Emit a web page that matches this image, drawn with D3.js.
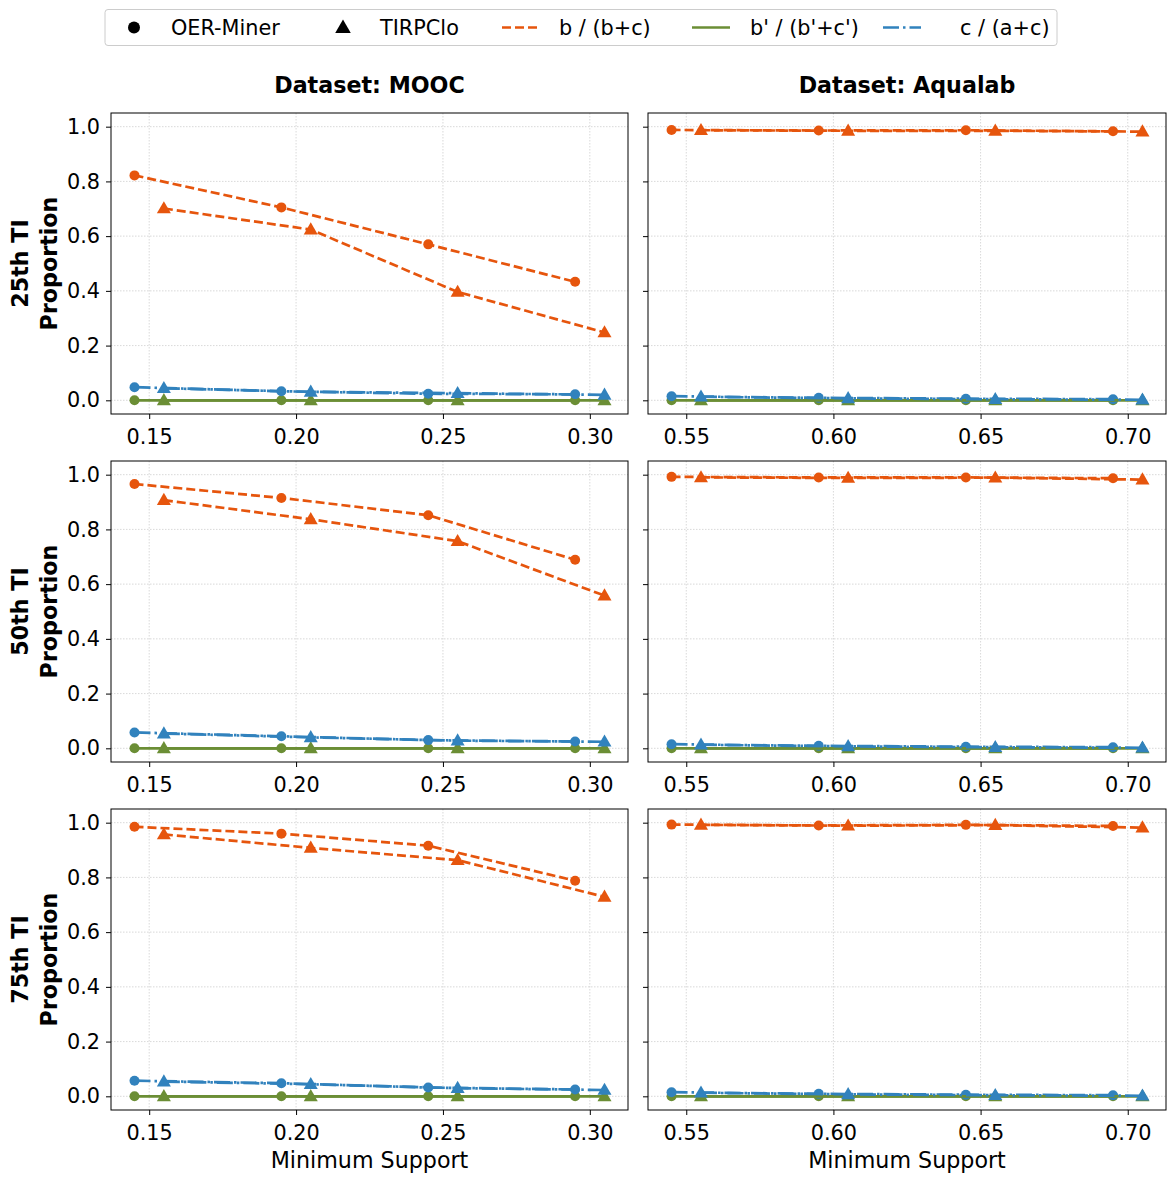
<!DOCTYPE html>
<html><head><meta charset="utf-8">
<script src="https://cdn.jsdelivr.net/npm/d3@7"></script>
<style>body{margin:0;background:#fff;} text{font-family:"DejaVu Sans",sans-serif;}</style>
</head><body>
<svg id="chart" width="1175" height="1182"></svg>
<script>
// ---------------- DATA ----------------
const datasets = ["MOOC", "Aqualab"];
const rowLabels = ["25th TI", "50th TI", "75th TI"];
const methods = ["OER-Miner", "TIRPClo"];
const metrics = ["b / (b+c)", "b' / (b'+c')", "c / (a+c)"];

const xMOOC_OER = [0.145, 0.195, 0.245, 0.295];
const xMOOC_TIR = [0.155, 0.205, 0.255, 0.305];
const xAqua_OER = [0.545, 0.595, 0.645, 0.695];
const xAqua_TIR = [0.555, 0.605, 0.655, 0.705];

const xTicksMOOC = [0.15, 0.20, 0.25, 0.30];
const xTicksAqua = [0.55, 0.60, 0.65, 0.70];
const yTicks = [0.0, 0.2, 0.4, 0.6, 0.8, 1.0];

// MOOC, rows 25th / 50th / 75th
const mooc_OER_b = [[0.822, 0.705, 0.570, 0.433], [0.966, 0.915, 0.852, 0.689], [0.985, 0.960, 0.916, 0.788]];
const mooc_TIR_b = [[0.701, 0.624, 0.396, 0.248], [0.907, 0.837, 0.757, 0.558], [0.957, 0.908, 0.863, 0.729]];
const mooc_OER_bp = [[0, 0, 0, 0], [0, 0, 0, 0], [0, 0, 0, 0]];
const mooc_TIR_bp = [[0, 0, 0, 0], [0, 0, 0, 0], [0, 0, 0, 0]];
const mooc_OER_c = [[0.048, 0.033, 0.024, 0.022], [0.058, 0.044, 0.030, 0.025], [0.057, 0.048, 0.032, 0.025]];
const mooc_TIR_c = [[0.044, 0.031, 0.026, 0.020], [0.054, 0.040, 0.028, 0.024], [0.054, 0.044, 0.030, 0.023]];

// Aqualab
const aqua_OER_b = [[0.988, 0.986, 0.987, 0.983], [0.992, 0.990, 0.990, 0.987], [0.993, 0.990, 0.992, 0.988]];
const aqua_TIR_b = [[0.987, 0.985, 0.985, 0.982], [0.990, 0.988, 0.989, 0.982], [0.992, 0.989, 0.991, 0.982]];
const aqua_OER_bp = [[0, 0, 0, 0], [0, 0, 0, 0], [0, 0, 0, 0]];
const aqua_TIR_bp = [[0, 0, 0, 0], [0, 0, 0, 0], [0, 0, 0, 0]];
const aqua_OER_c = [[0.015, 0.009, 0.006, 0.004], [0.015, 0.009, 0.006, 0.004], [0.015, 0.009, 0.006, 0.004]];
const aqua_TIR_c = [[0.013, 0.007, 0.004, 0.002], [0.013, 0.007, 0.004, 0.002], [0.013, 0.007, 0.004, 0.002]];

// ---------------- STYLE ----------------
const colors = ["#e6550d", "#6b8e35", "#3182bd"];
const dashes = ["9,4", null, "16,4,2.5,4"];
const tickFont = "20.8px";
const labelFont = "22.2px";

const svg = d3.select("#chart");
const colX = [[111, 628], [648, 1166]];
const rowY = [113, 461, 809];
const panelH = 301;
const xDomains = [[0.137, 0.313], [0.537, 0.713]];

const xs = [[xMOOC_OER, xMOOC_TIR], [xAqua_OER, xAqua_TIR]];
const ys = [
  [[mooc_OER_b, mooc_OER_bp, mooc_OER_c], [mooc_TIR_b, mooc_TIR_bp, mooc_TIR_c]],
  [[aqua_OER_b, aqua_OER_bp, aqua_OER_c], [aqua_TIR_b, aqua_TIR_bp, aqua_TIR_c]]
];
const xTicksAll = [xTicksMOOC, xTicksAqua];

const tri = d3.symbol().type(d3.symbolTriangle).size(85);

for (let r = 0; r < 3; r++) {
  for (let c = 0; c < 2; c++) {
    const x = d3.scaleLinear().domain(xDomains[c]).range(colX[c]);
    const y = d3.scaleLinear().domain([-0.05, 1.05]).range([rowY[r] + panelH, rowY[r]]);
    const g = svg.append("g");
    // grid
    g.selectAll(".gx").data(xTicksAll[c]).enter().append("line")
      .attr("x1", d => x(d)).attr("x2", d => x(d))
      .attr("y1", rowY[r]).attr("y2", rowY[r] + panelH)
      .attr("stroke", "#cfcfcf").attr("stroke-width", 0.8).attr("stroke-dasharray", "1.5,1.5");
    g.selectAll(".gy").data(yTicks).enter().append("line")
      .attr("x1", colX[c][0]).attr("x2", colX[c][1])
      .attr("y1", d => y(d)).attr("y2", d => y(d))
      .attr("stroke", "#cfcfcf").attr("stroke-width", 0.8).attr("stroke-dasharray", "1.5,1.5");

    // axes
    const xAxis = d3.axisBottom(x).tickValues(xTicksAll[c]).tickFormat(d3.format(".2f")).tickSize(5).tickPadding(10);
    const gx = g.append("g").attr("transform", `translate(0,${rowY[r] + panelH})`).call(xAxis);
    gx.select(".domain").remove();
    gx.selectAll("text").attr("font-size", tickFont).attr("fill", "#000").attr("font-family", "DejaVu Sans");
    gx.selectAll("line").attr("stroke", "#000");

    const yAxis = d3.axisLeft(y).tickValues(yTicks).tickFormat(c === 0 ? d3.format(".1f") : () => "").tickSize(5).tickPadding(6);
    const gy = g.append("g").attr("transform", `translate(${colX[c][0]},0)`).call(yAxis);
    gy.select(".domain").remove();
    gy.selectAll("text").attr("font-size", tickFont).attr("fill", "#000").attr("font-family", "DejaVu Sans");
    gy.selectAll("line").attr("stroke", "#000");

    // series
    for (let m = 0; m < 2; m++) {
      for (let k = 0; k < 3; k++) {
        const xv = xs[c][m];
        const yv = ys[c][m][k][r];
        const pts = xv.map((xx, i) => [xx, yv[i]]);
        const line = d3.line().x(d => x(d[0])).y(d => y(d[1]));
        g.append("path").attr("d", line(pts)).attr("fill", "none")
          .attr("stroke", colors[k]).attr("stroke-width", 2.7)
          .attr("stroke-dasharray", dashes[k]);
        if (m === 0) {
          g.selectAll(null).data(pts).enter().append("circle")
            .attr("cx", d => x(d[0])).attr("cy", d => y(d[1])).attr("r", 5)
            .attr("fill", colors[k]);
        } else {
          g.selectAll(null).data(pts).enter().append("path")
            .attr("d", tri)
            .attr("transform", d => `translate(${x(d[0])},${y(d[1]) + 0.8})`)
            .attr("fill", colors[k]);
        }
      }
    }

    // frame
    g.append("rect").attr("x", colX[c][0]).attr("y", rowY[r])
      .attr("width", colX[c][1] - colX[c][0]).attr("height", panelH)
      .attr("fill", "none").attr("stroke", "#000").attr("stroke-width", 1);

    if (r === 0) {
      svg.append("text").attr("x", (colX[c][0] + colX[c][1]) / 2).attr("y", 93)
        .attr("text-anchor", "middle").attr("font-size", labelFont).attr("font-weight", "bold")
        .text("Dataset: " + datasets[c]);
    }
    if (r === 2) {
      svg.append("text").attr("x", (colX[c][0] + colX[c][1]) / 2).attr("y", 1168)
        .attr("text-anchor", "middle").attr("font-size", labelFont)
        .text("Minimum Support");
    }
    if (c === 0) {
      const cy = rowY[r] + panelH / 2;
      svg.append("text").attr("transform", `translate(28,${cy}) rotate(-90)`)
        .attr("text-anchor", "middle").attr("font-size", labelFont).attr("font-weight", "bold")
        .text(rowLabels[r]);
      svg.append("text").attr("transform", `translate(57,${cy}) rotate(-90)`)
        .attr("text-anchor", "middle").attr("font-size", labelFont).attr("font-weight", "bold")
        .text("Proportion");
    }
  }
}

// ---------------- LEGEND ----------------
const lg = svg.append("g");
lg.append("rect").attr("x", 105).attr("y", 9.5).attr("width", 952).attr("height", 36)
  .attr("rx", 3).attr("fill", "#fff").attr("stroke", "#cccccc").attr("stroke-width", 1);
const ly = 27.5;
lg.append("circle").attr("cx", 134).attr("cy", ly).attr("r", 6).attr("fill", "#000");
lg.append("text").attr("x", 171).attr("y", ly + 7.5).attr("font-size", tickFont).text(methods[0]);
lg.append("path").attr("d", d3.symbol().type(d3.symbolTriangle).size(105)).attr("transform", `translate(343,${ly + 1})`).attr("fill", "#000");
lg.append("text").attr("x", 380).attr("y", ly + 7.5).attr("font-size", tickFont).text(methods[1]);
const legLines = [[502, 559], [692, 750], [883, 960]];
legLines.forEach((p, k) => {
  lg.append("line").attr("x1", p[0]).attr("x2", p[0] + 38).attr("y1", ly).attr("y2", ly)
    .attr("stroke", colors[k]).attr("stroke-width", 2.7).attr("stroke-dasharray", dashes[k]);
  lg.append("text").attr("x", p[1]).attr("y", ly + 7.5).attr("font-size", tickFont).text(metrics[k]);
});
</script>
</body></html>
